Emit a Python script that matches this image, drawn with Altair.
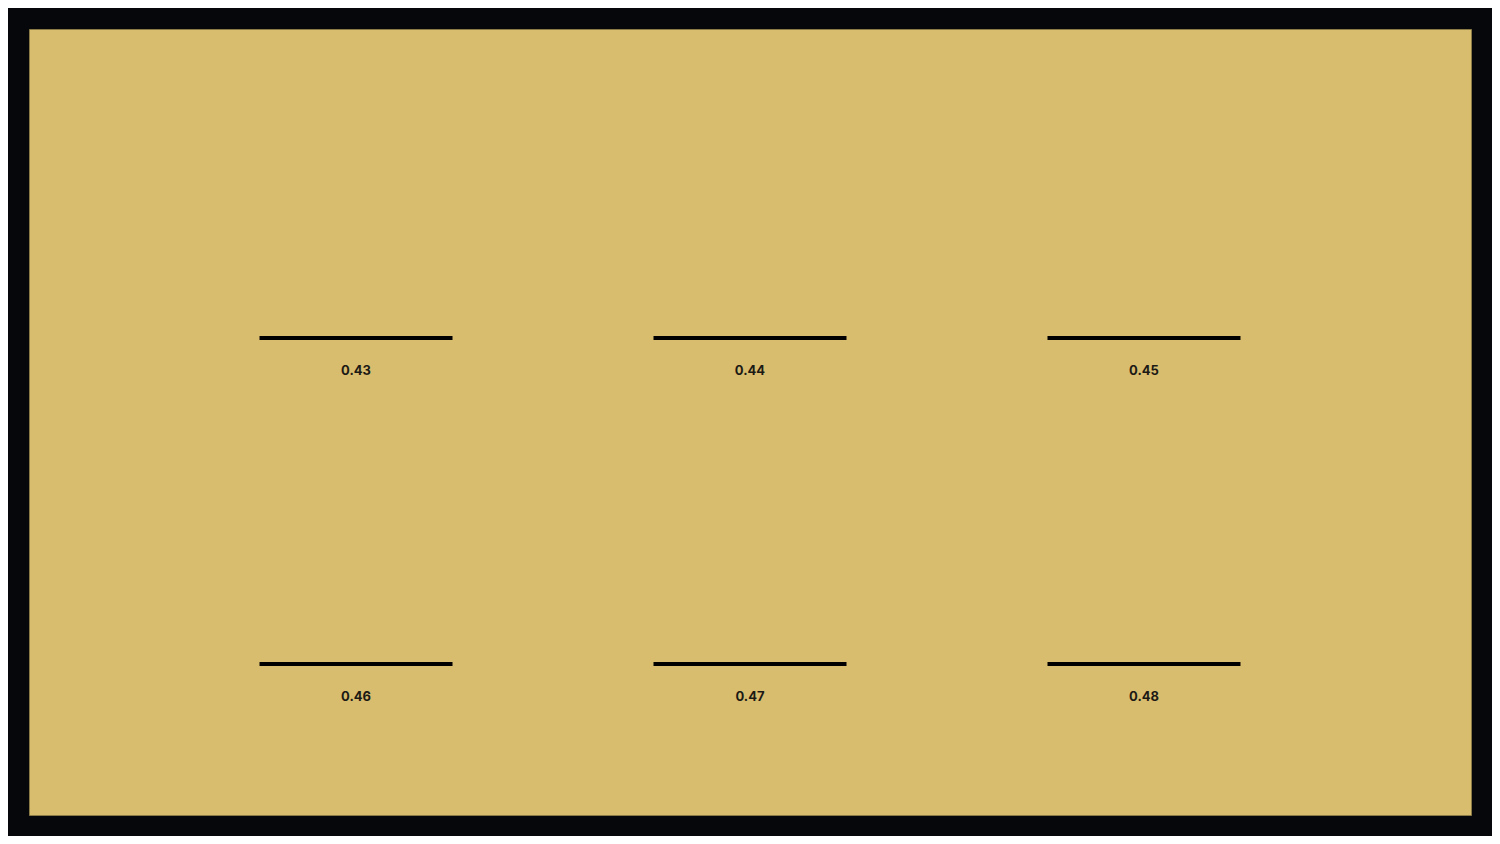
import altair as alt
import pandas as pd

labels = ["0.43", "0.44", "0.45", "0.46", "0.47", "0.48"]
values = [0.43, 0.44, 0.45, 0.46, 0.47, 0.48]
cols = [0, 1, 2, 0, 1, 2]
rows = [0, 0, 0, 1, 1, 1]

df = pd.DataFrame({"label": labels, "value": values, "col": cols, "row": rows})

x = alt.X("col:O", axis=None, scale=alt.Scale(type="point", padding=0.83))
y = alt.Y("row:O", axis=None, scale=alt.Scale(type="point", padding=0.7055, align=0.672))

base = alt.Chart(df).encode(x=x, y=y)

ticks = base.mark_tick(orient="horizontal", size=193, thickness=4, color="#000000", opacity=1)
text = base.mark_text(dy=33, fontSize=13, fontWeight="bold", font="Inter", color="#1c1a14", baseline="middle").encode(text="label:N")

chart = (ticks + text).properties(
    width=1442, height=786,
    padding={"left": 21, "top": 21, "right": 21, "bottom": 21},
    background="#05070a",
).configure_view(fill="#d9bd6f", stroke="#8a7a45", strokeWidth=1)

chart.save("out.html", embed_options={"renderer": "svg", "actions": False})
